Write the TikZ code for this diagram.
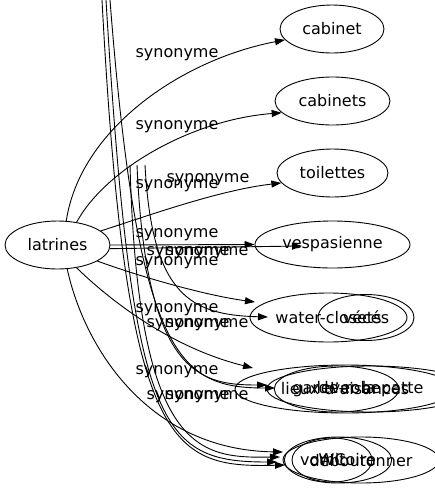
\documentclass[tikz,border=0pt]{standalone}
\usepackage{fontspec}
\setmainfont{DejaVu Sans}
\usetikzlibrary{shapes.geometric,arrows.meta}
\begin{document}
\begin{tikzpicture}[x=1pt,y=-1pt,
  every node/.style={font=\fontsize{16}{19}\selectfont},
  ell/.style={draw,ellipse,inner sep=0pt,line width=0.9pt},
  lab/.style={inner sep=0pt},
  edge/.style={draw,line width=0.9pt,-{Triangle[length=10pt,width=7pt]}}]
\useasboundingbox (0,0) rectangle (435,491);
% main nodes
\node[ell,minimum width=105pt,minimum height=48pt] (lat) at (57.5,245) {latrines};
\node[ell,minimum width=104pt,minimum height=48pt] (cab) at (332,29) {cabinet};
\node[ell,minimum width=115pt,minimum height=48pt] (cabs) at (332.5,101) {cabinets};
\node[ell,minimum width=111pt,minimum height=48pt] (toil) at (332.5,173) {toilettes};
\node[ell,minimum width=155pt,minimum height=47pt] (vesp) at (332.5,244.5) {vespasienne};
% row 4
\node[ell,minimum width=157pt,minimum height=49pt] (wc4a) at (328.5,317.5) {water-closets};
\node[ell,minimum width=96pt,minimum height=46pt] (wc4b) at (366,317.5) {vécés};
% row 5
\node[ell,minimum width=220pt,minimum height=48pt] (r5n1) at (345,389) {lieux d'aisances};
\node[ell,minimum width=206pt,minimum height=46pt] (r5n2) at (370,389) {lever la patte};
\node[ell,minimum width=103pt,minimum height=46pt] (r5n3) at (336.5,389) {garde-robe};
% row 6
\node[ell,minimum width=156pt,minimum height=46pt] (r6n1) at (361,460) {déboutonner};
\node[ell,minimum width=104pt,minimum height=46pt] (r6n2) at (338,460) {vomitoire};
\node[ell,minimum width=80pt,minimum height=44pt] (r6n3) at (332,460) {WC};
% free ends
\coordinate (T1s) at (102,0);
\coordinate (T2s) at (106,0);
\coordinate (T3s) at (110,0);
\coordinate (M1s) at (130,165);
\coordinate (M2s) at (137,165);
\coordinate (M3s) at (145,165);
\coordinate (v2) at (302,246);
\coordinate (r4a) at (255,302);
\coordinate (r4b) at (268,317);
\coordinate (r5a) at (253,368);
\coordinate (r5b) at (267,385);
\coordinate (r5c) at (275,388);
\coordinate (r6a) at (283,452);
\coordinate (r6b) at (277,462);
\coordinate (r6c) at (285,465);
\coordinate (r6d) at (280,457);
% edges
\draw[edge] (lat.70) .. controls (80,130) and (180,60) .. (cab.193);
\draw[edge] (lat.50) .. controls (105,170) and (190,120) .. (cabs.193);
\draw[edge] (lat.18) .. controls (150,215) and (220,190) .. (toil.191);
\draw[edge] (lat.east) -- (vesp.west);
\draw[edge] (lat.-4) -- (v2);
\draw[edge] (lat.338) .. controls (150,280) and (210,296) .. (r4a);
\draw[edge] (M3s) .. controls (152,295) and (190,315) .. (r4b);
\draw[edge] (lat.310) .. controls (120,310) and (180,350) .. (r5a);
\draw[edge] (M2s) .. controls (146,375) and (200,385) .. (r5b);
\draw[edge] (T3s) .. controls (138,360) and (180,388) .. (r5c);
\draw[edge] (lat.292) .. controls (85,350) and (150,450) .. (r6a);
\draw[edge] (M1s) .. controls (138,455) and (200,458) .. (r6d);
\draw[edge] (T2s) .. controls (132,430) and (160,462) .. (r6b);
\draw[edge] (T1s) .. controls (126,450) and (170,468) .. (r6c);
% labels
\node[lab] (l1) at (177,55) {synonyme};
\node[lab] (l2) at (177,127) {synonyme};
\node[lab] (l3) at (208,180) {synonyme};
\node[lab] (l4) at (177,186) {synonyme};
\node[lab] (l5) at (177,235) {synonyme};
\node[lab] (l6) at (188,253) {synonyme};
\node[lab] (l7) at (207,253) {synonyme};
\node[lab] (l8) at (177,263) {synonyme};
\node[lab] (l9) at (177,310) {synonyme};
\node[lab] (l10) at (188,325) {synonyme};
\node[lab] (l11) at (207,325) {synonyme};
\node[lab] (l12) at (177,372) {synonyme};
\node[lab] (l13) at (188,397) {synonyme};
\node[lab] (l14) at (207,397) {synonyme};
\end{tikzpicture}
\end{document}
